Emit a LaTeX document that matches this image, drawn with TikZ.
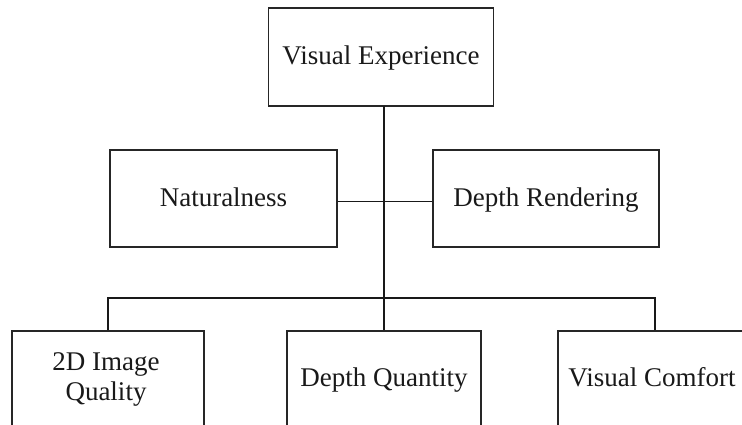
\documentclass[tikz,border=0pt]{standalone}
\usepackage{fontspec}
\setmainfont{Liberation Serif}
\begin{document}
\begin{tikzpicture}[x=1pt,y=-1pt,
  box/.style={draw=black!85, line width=1.7pt, rectangle, inner xsep=0pt, inner ysep=0pt,
    font=\fontsize{27}{30}\selectfont, text=black!90},
  lbl/.style={inner sep=0pt, font=\fontsize{27}{30}\selectfont, text=black!90},
  link/.style={draw=black!90, line width=1.6pt}]
\useasboundingbox (0,0) rectangle (742,425);
\clip (0,0) rectangle (742,425);
% top
\node[box, minimum width=225pt, text height=57pt, text depth=41pt] (ve) at (381,57) {Visual Experience};
% middle
\node[box, minimum width=227pt, text height=57pt, text depth=40pt] (nat) at (223.5,198.5) {Naturalness};
\node[box, minimum width=226pt, text height=57pt, text depth=40pt] (dr) at (546,198.5) {Depth Rendering};
% bottom
\node[box, minimum width=192pt, text height=55pt, text depth=75pt] (iq) at (108,396) {};
\node[box, minimum width=194pt, text height=55pt, text depth=75pt] (dq) at (384,396) {Depth Quantity};
\node[box, minimum width=194pt, text height=55pt, text depth=75pt] (vc) at (655,396) {\hspace*{-6pt}Visual Comfort};
\node[lbl, anchor=base] (iqa) at (106,370) {2D Image};
\node[lbl, anchor=base] (iqb) at (106,400) {Quality};
% connectors
\coordinate (top) at (384,106);
\coordinate (bar) at (384,298);
\draw[link] (top) -- (dq.north -| top);
\draw[link] ([yshift=-3pt]nat.east) -- ([yshift=-3pt]dr.west);
\draw[link] (iq.north) |- (bar) -| (vc.north);
\end{tikzpicture}
\end{document}
